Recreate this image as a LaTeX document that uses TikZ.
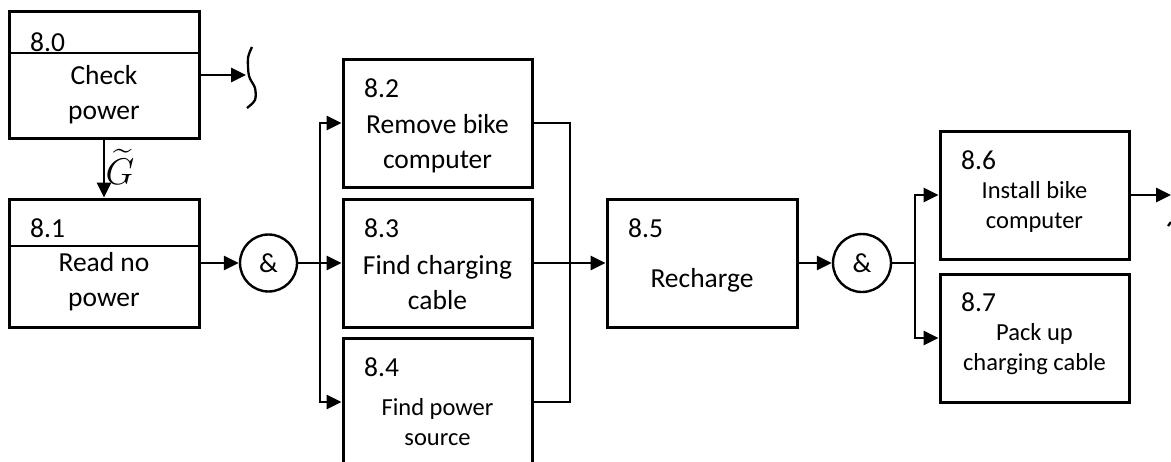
\RequirePackage{fix-cm}
\documentclass[tikz,border=0pt]{standalone}
\usepackage{amsmath}
\usepackage{fontspec}
\setmainfont{Carlito}
\usepackage{tikz}
\usetikzlibrary{arrows.meta}
\newcommand{\boxfont}{\fontsize{27.5}{35}\selectfont}
\newcommand{\boxsmallfont}{\fontsize{24.5}{30}\selectfont}
\tikzset{
    taskbox/.style={rectangle, draw, line width=3pt,
        minimum width=190pt,
        minimum height=128pt,
        inner sep=0pt},
    tasknum/.style={anchor=west, inner sep=0pt, font=\boxfont},
    tasktext/.style={align=center, inner sep=0pt, font=\boxfont},
    tasksmall/.style={align=center, inner sep=0pt, font=\boxsmallfont},
    andgate/.style={circle, draw, line width=2.4pt, minimum size=57pt,
        inner sep=0pt, font=\boxfont},
    flow/.style={line width=2.8pt, -{Triangle[length=15pt, width=14pt]}},
    link/.style={line width=2.8pt},
    divider/.style={line width=2.3pt}
}

\begin{document}
\begin{tikzpicture}[x=1pt, y=-1pt]
\clip (0,0) rectangle (1171,461);

% Check and read power
\node[taskbox, minimum height=127pt] (b80) at (104, 74.5) {};
\draw[divider] (b80.west |- 0,53) -- (b80.east |- 0,53);
\node[tasknum] (n80) at (30, 42) {8.0};
\node[tasktext] (t80) at (104, 94.5) {Check\\power};

\node[taskbox] (b81) at (104, 263) {};
\draw[divider] (b81.west |- 0,246) -- (b81.east |- 0,246);
\node[tasknum] (n81) at (30, 228) {8.1};
\node[tasktext] (t81) at (104, 282) {Read no\\power};

\coordinate (e80) at (246, 75);
\draw[flow] (b80.east |- e80) -- (e80);
\draw[divider] plot[smooth] coordinates {(252,47) (248,58) (249,76) (255,88) (255,100) (247,108)};

\draw[flow] (b80) -- (b81);
\node[inner sep=0pt, font=\boxfont] (glab) at (120, 167) {\scalebox{1.35}{$\widetilde{G}$}};

% Split
\node[andgate] (g1) at (268.5, 263) {\&};
\coordinate (bus1) at (320, 263);

\node[taskbox, minimum width=189pt] (b82) at (437.5, 123) {};
\node[tasknum] (n82) at (364, 88) {8.2};
\node[tasktext] (t82) at (437.5, 143.5) {Remove bike\\computer};

\node[taskbox, minimum width=189pt] (b83) at (437.5, 263) {};
\node[tasknum] (n83) at (364, 228) {8.3};
\node[tasktext] (t83) at (437.5, 282.5) {Find charging\\cable};

\node[taskbox, minimum width=189pt] (b84) at (437.5, 402) {};
\node[tasknum] (n84) at (364, 367) {8.4};
\node[tasksmall] (t84) at (437.5, 422.5) {Find power\\source};

\draw[flow] (b81) -- (g1);
\draw[link] (g1) -- (bus1);
\draw[flow] (bus1) |- (b82.west);
\draw[flow] (bus1) -- (b83.west);
\draw[flow] (bus1) |- (b84.west);

% Recharge
\coordinate (bus2) at (570, 263);
\node[taskbox] (b85) at (702, 263) {};
\node[tasknum] (n85) at (628, 228) {8.5};
\node[tasktext] (t85) at (702, 280) {Recharge};

\draw[link] (b82.east) -| (bus2) |- (b84.east);
\draw[flow] (b83) -- (b85);

% Join and finish
\node[andgate, minimum size=58pt] (g2) at (862, 263) {\&};
\coordinate (bus3) at (915, 263);

\node[taskbox, minimum width=189pt] (b86) at (1034.5, 195) {};
\node[tasknum] (n86) at (961, 160) {8.6};
\node[tasksmall] (t86) at (1034.5, 207) {Install bike\\computer};

\node[taskbox, minimum width=189pt] (b87) at (1034.5, 338) {};
\node[tasknum] (n87) at (961, 302) {8.7};
\node[tasksmall] (t87) at (1034.5, 349) {Pack up\\charging cable};

\draw[flow] (b85) -- (g2);
\draw[link] (g2) -- (bus3);
\draw[flow] (bus3) |- (b86.west);
\draw[flow] (bus3) |- (b87.west);

\coordinate (e86) at (1171, 195);
\draw[flow] (b86) -- (e86);
\draw[divider] (1168,226) -- (1171,222);

\end{tikzpicture}
\end{document}
